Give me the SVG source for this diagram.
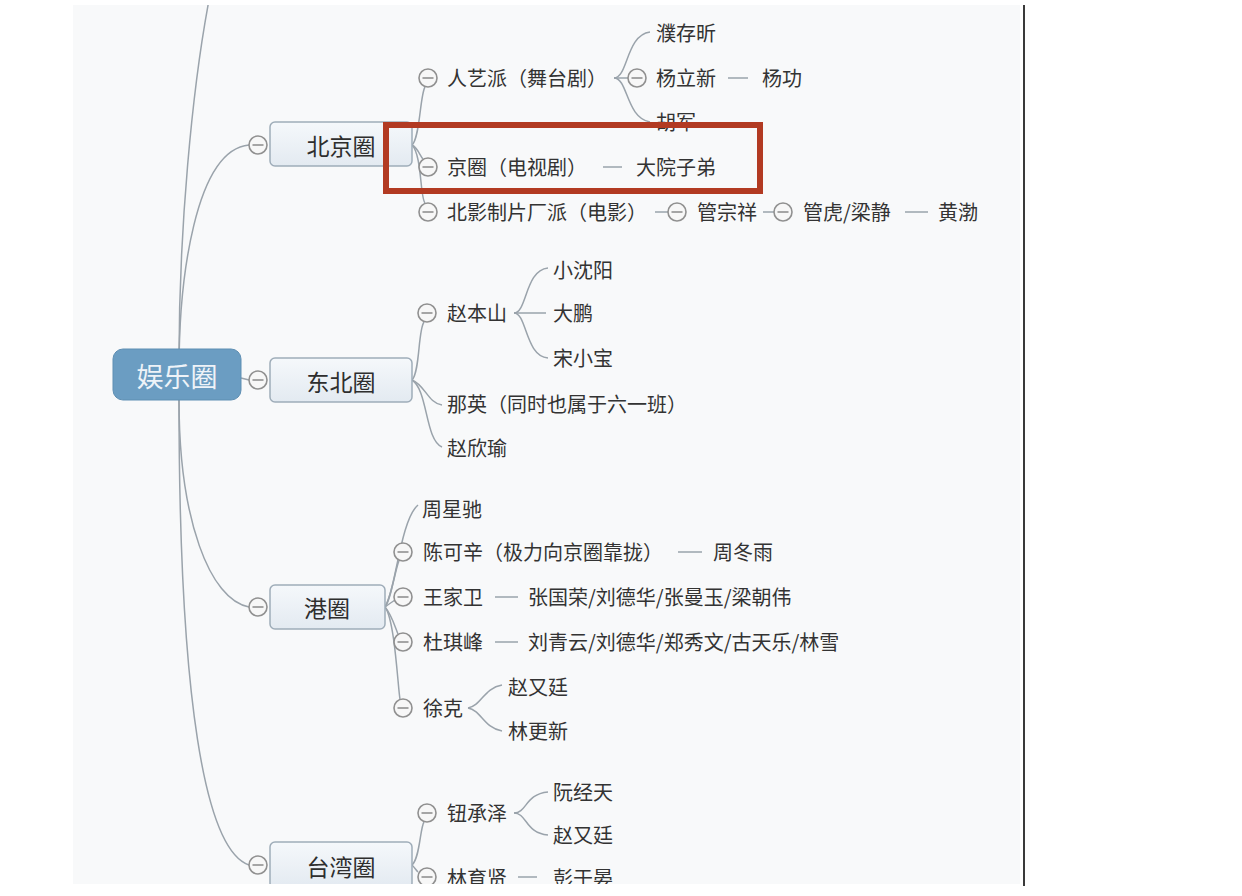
<svg xmlns="http://www.w3.org/2000/svg" width="1242" height="896" viewBox="0 0 1242 896">
<style>
.t{font-family:"Noto Sans CJK SC","Noto Sans",sans-serif;font-size:20px;fill:#333;dominant-baseline:central}
.bt{font-family:"Noto Sans CJK SC","Noto Sans",sans-serif;font-size:23px;fill:#2e2e2e;dominant-baseline:central;text-anchor:middle}
.rt{font-family:"Noto Sans CJK SC","Noto Sans",sans-serif;font-size:27px;fill:#eef3f8;dominant-baseline:central;text-anchor:middle}
.c{fill:none;stroke:#9aa3ab;stroke-width:1.5}
.box{fill:url(#g);stroke:#9fadb9;stroke-width:1.5}
</style>
<defs>
<linearGradient id="g" x1="0" y1="0" x2="0" y2="1"><stop offset="0" stop-color="#f5f8fb"/><stop offset="1" stop-color="#e3eaf1"/></linearGradient>
<clipPath id="clip"><rect x="73" y="5" width="947" height="879"/></clipPath>
<g id="m"><circle r="9" fill="#f7f7f7" stroke="#909090" stroke-width="1.6"/><line x1="-5.5" y1="0" x2="5.5" y2="0" stroke="#909090" stroke-width="1.6"/></g>
</defs>
<rect width="1242" height="896" fill="#fff"/>
<rect x="73" y="5" width="947" height="879" fill="#f8f9fa"/>
<line x1="1024" y1="5" x2="1024" y2="886" stroke="#3a3a3a" stroke-width="2"/>
<g clip-path="url(#clip)">
<g id="connectors">
<path class="c" d="M179,360 C179,230 192,90 209,0"/>
<path class="c" d="M179,370 C179,280 195,150 249,145"/>
<path class="c" d="M241,378 L249,380"/>
<path class="c" d="M179,400 C179,520 210,600 249,607"/>
<path class="c" d="M179,400 C179,700 205,850 249,865"/>
<path class="c" d="M412,145 C420,138 420,95 425,87"/>
<path class="c" d="M412,145 C418,148 420,156 423,159"/>
<path class="c" d="M412,145 C422,155 420,198 425,203"/>
<path class="c" d="M614,78 C628,78 626,35 650,32"/>
<path class="c" d="M614,78 L628,78"/>
<path class="c" d="M614,78 C628,78 626,118 650,122"/>
<path class="c" d="M728,78 L748,78"/>
<path class="c" d="M603,167 L622,167"/>
<path class="c" d="M655,212 L668,212"/>
<path class="c" d="M763,212 L774,212"/>
<path class="c" d="M905,212 L928,212"/>
<path class="c" d="M412,380 C420,372 418,330 424,322"/>
<path class="c" d="M412,380 C425,385 428,403 442,405"/>
<path class="c" d="M412,380 C428,390 425,440 442,447"/>
<path class="c" d="M514,313 C527,313 525,270 548,268"/>
<path class="c" d="M514,313 L546,313"/>
<path class="c" d="M514,313 C527,313 525,356 548,358"/>
<path class="c" d="M385,607 C395,595 400,520 418,505"/>
<path class="c" d="M385,607 C392,595 396,566 399,561"/>
<path class="c" d="M385,607 C389,604 392,602 395,600"/>
<path class="c" d="M385,607 C392,615 396,630 398,634"/>
<path class="c" d="M385,607 C395,620 398,690 400,699"/>
<path class="c" d="M678,552 L702,552"/>
<path class="c" d="M495,597 L518,597"/>
<path class="c" d="M495,642 L518,642"/>
<path class="c" d="M468,708 C481,706 484,688 502,685"/>
<path class="c" d="M468,708 C481,710 484,728 502,731"/>
<path class="c" d="M412,865 C420,858 420,828 424,822"/>
<path class="c" d="M412,865 C415,868 416,870 418,872"/>
<path class="c" d="M514,813 C527,813 525,794 548,792"/>
<path class="c" d="M514,813 C527,813 525,833 548,835"/>
<path class="c" d="M518,877 L537,877"/>
</g>
<g id="root">
<rect x="113" y="349" width="128" height="51" rx="10" fill="#6b9dc2" stroke="#5f8fb3" stroke-width="1"/>
<text class="rt" x="177" y="375">娱乐圈</text>
</g>
<g id="beijing">
<use href="#m" x="258" y="145"/>
<rect class="box" x="270" y="122" width="142" height="44" rx="5"/>
<text class="bt" x="341" y="145">北京圈</text>
</g>
<g id="dongbei">
<use href="#m" x="258" y="380"/>
<rect class="box" x="270" y="358" width="142" height="44" rx="5"/>
<text class="bt" x="341" y="381">东北圈</text>
</g>
<g id="gang">
<use href="#m" x="258" y="607"/>
<rect class="box" x="270" y="585" width="115" height="44" rx="5"/>
<text class="bt" x="327" y="607">港圈</text>
</g>
<g id="taiwan">
<use href="#m" x="258" y="865"/>
<rect class="box" x="270" y="842" width="142" height="46" rx="5"/>
<text class="bt" x="341" y="866">台湾圈</text>
</g>
<g id="renyi"><use href="#m" x="428" y="78"/><text class="t" x="447" y="77">人艺派（舞台剧）</text></g>
<g id="pucunxin"><text class="t" x="656" y="32">濮存昕</text></g>
<g id="yanglixin"><use href="#m" x="637" y="78"/><text class="t" x="656" y="77">杨立新</text></g>
<g id="yanggong"><text class="t" x="762" y="77">杨功</text></g>
<g id="hujun"><text class="t" x="656" y="121">胡军</text></g>
<g id="jingquan"><use href="#m" x="428" y="167"/><text class="t" x="447" y="166">京圈（电视剧）</text></g>
<g id="dayuan"><text class="t" x="636" y="166">大院子弟</text></g>
<g id="beiying"><use href="#m" x="428" y="212"/><text class="t" x="447" y="211">北影制片厂派（电影）</text></g>
<g id="guanzongxiang"><use href="#m" x="677" y="212"/><text class="t" x="697" y="211">管宗祥</text></g>
<g id="guanhu"><use href="#m" x="783" y="212"/><text class="t" x="803" y="211">管虎/梁静</text></g>
<g id="huangbo"><text class="t" x="938" y="211">黄渤</text></g>
<g id="zhaobenshan"><use href="#m" x="427" y="313"/><text class="t" x="447" y="312">赵本山</text></g>
<g id="xiaoshenyang"><text class="t" x="553" y="269">小沈阳</text></g>
<g id="dapeng"><text class="t" x="553" y="312">大鹏</text></g>
<g id="songxiaobao"><text class="t" x="553" y="357">宋小宝</text></g>
<g id="naying"><text class="t" x="447" y="403">那英（同时也属于六一班）</text></g>
<g id="zhaoxinyu"><text class="t" x="447" y="447">赵欣瑜</text></g>
<g id="zhouxingchi"><text class="t" x="422" y="508">周星驰</text></g>
<g id="chenkexin"><use href="#m" x="403" y="552"/><text class="t" x="423" y="551">陈可辛（极力向京圈靠拢）</text></g>
<g id="zhoudongyu"><text class="t" x="713" y="551">周冬雨</text></g>
<g id="wangjiawei"><use href="#m" x="403" y="597"/><text class="t" x="423" y="596">王家卫</text></g>
<g id="wjw-actors"><text class="t" x="528" y="596">张国荣/刘德华/张曼玉/梁朝伟</text></g>
<g id="duqifeng"><use href="#m" x="403" y="642"/><text class="t" x="423" y="641">杜琪峰</text></g>
<g id="dqf-actors"><text class="t" x="528" y="641">刘青云/刘德华/郑秀文/古天乐/林雪</text></g>
<g id="xuke"><use href="#m" x="403" y="708"/><text class="t" x="423" y="707">徐克</text></g>
<g id="zhaoyouting1"><text class="t" x="508" y="686">赵又廷</text></g>
<g id="linggengxin"><text class="t" x="508" y="730">林更新</text></g>
<g id="niuchengze"><use href="#m" x="427" y="813"/><text class="t" x="447" y="812">钮承泽</text></g>
<g id="ruanjingtian"><text class="t" x="553" y="791">阮经天</text></g>
<g id="zhaoyouting2"><text class="t" x="553" y="834">赵又廷</text></g>
<g id="linyuxian"><use href="#m" x="427" y="877"/><text class="t" x="447" y="877">林育贤</text></g>
<g id="pengyuyan"><text class="t" x="553" y="877">彭于晏</text></g>
<rect id="highlight" x="386" y="125" width="374" height="66" fill="none" stroke="#b23a22" stroke-width="6"/>
</g>
</svg>
